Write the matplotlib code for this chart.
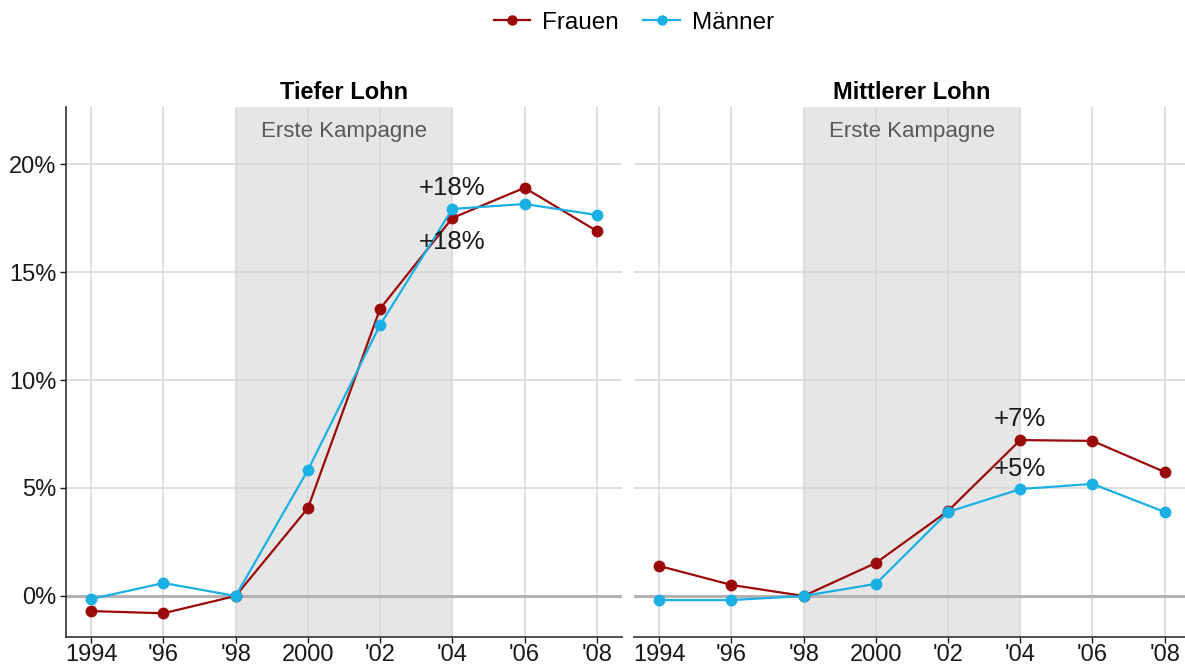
import matplotlib.pyplot as plt
from matplotlib.ticker import FuncFormatter
from matplotlib.lines import Line2D

plt.rcParams['font.family'] = ['Liberation Sans', 'DejaVu Sans']

years = [1994, 1996, 1998, 2000, 2002, 2004, 2006, 2008]
year_labels = ['1994', "'96", "'98", '2000', "'02", "'04", "'06", "'08"]

panels = ['Tiefer Lohn', 'Mittlerer Lohn']
frauen = {
    'Tiefer Lohn': [-0.7, -0.8, 0.0, 4.07, 13.3, 17.5, 18.9, 16.9],
    'Mittlerer Lohn': [1.39, 0.51, 0.0, 1.53, 3.94, 7.22, 7.18, 5.74],
}
maenner = {
    'Tiefer Lohn': [-0.14, 0.6, 0.0, 5.83, 12.55, 17.92, 18.15, 17.64],
    'Mittlerer Lohn': [-0.19, -0.19, 0.0, 0.56, 3.89, 4.95, 5.19, 3.89],
}
# annotation text and its y position (in %) at year 2004
labels = {
    'Tiefer Lohn': [('+18%', 18.9), ('+18%', 16.4)],
    'Mittlerer Lohn': [('+7%', 8.2), ('+5%', 5.9)],
}
campaign = (1998, 2004)

c_f = '#9b0a0a'
c_m = '#1bb0e3'

fig = plt.figure(figsize=(11.85, 6.68), dpi=100)
axes = [fig.add_axes([0.0557, 0.0464, 0.4692, 0.7934]),
        fig.add_axes([0.535, 0.0464, 0.4692, 0.7934])]

for i, (ax, name) in enumerate(zip(axes, panels)):
    ax.axvspan(*campaign, color='#e6e6e6', zorder=0, lw=0)
    for y in [0, 5, 10, 15, 20]:
        ax.axhline(y, color='#d9d9d9', lw=1.2, zorder=1)
    for x in years:
        ax.axvline(x, color='#d9d9d9', lw=1.2, zorder=1)
    ax.axhline(0, color='#b3b3b3', lw=2.2, zorder=1.5)
    ax.plot(years, frauen[name], color=c_f, lw=1.6, marker='o', ms=7.5, zorder=3)
    ax.plot(years, maenner[name], color=c_m, lw=1.6, marker='o', ms=7.5, zorder=3)
    ax.text(sum(campaign) / 2, 21.5, 'Erste Kampagne', ha='center', va='center',
            fontsize=16, color='#595959')
    for txt, yy in labels[name]:
        ax.text(2004, yy, txt, ha='center', va='center', fontsize=18.5, color='#1a1a1a', zorder=4)
    ax.set_xlim(1993.3, 2008.7)
    ax.set_ylim(-1.9, 22.64)
    ax.set_xticks(years)
    ax.set_xticklabels(year_labels)
    ax.set_yticks([0, 5, 10, 15, 20])
    ax.yaxis.set_major_formatter(FuncFormatter(lambda v, p: f'{v:.0f}%'))
    ax.tick_params(labelsize=17, colors='#1a1a1a', length=4, width=1, pad=3)
    ax.tick_params(axis='x', pad=1)
    ax.set_title(name, fontsize=17, fontweight='bold', pad=6)
    for s in ['top', 'right']:
        ax.spines[s].set_visible(False)
    ax.spines['bottom'].set_color('#333333')
    ax.spines['bottom'].set_linewidth(1.2)
    ax.spines['left'].set_color('#333333')
    ax.spines['left'].set_linewidth(1.2)
    if i == 1:
        ax.spines['left'].set_visible(False)
        ax.tick_params(axis='y', left=False, labelleft=False)

handles = [Line2D([], [], color=c_f, lw=1.6, marker='o', ms=6.5),
           Line2D([], [], color=c_m, lw=1.6, marker='o', ms=6.5)]
fig.legend(handles, ['Frauen', 'Männer'], loc='center', bbox_to_anchor=(0.535, 0.966),
           ncol=2, frameon=False, fontsize=17.5, handlelength=1.5, columnspacing=1.0,
           handletextpad=0.5)

fig.savefig('out.png', dpi=100)
